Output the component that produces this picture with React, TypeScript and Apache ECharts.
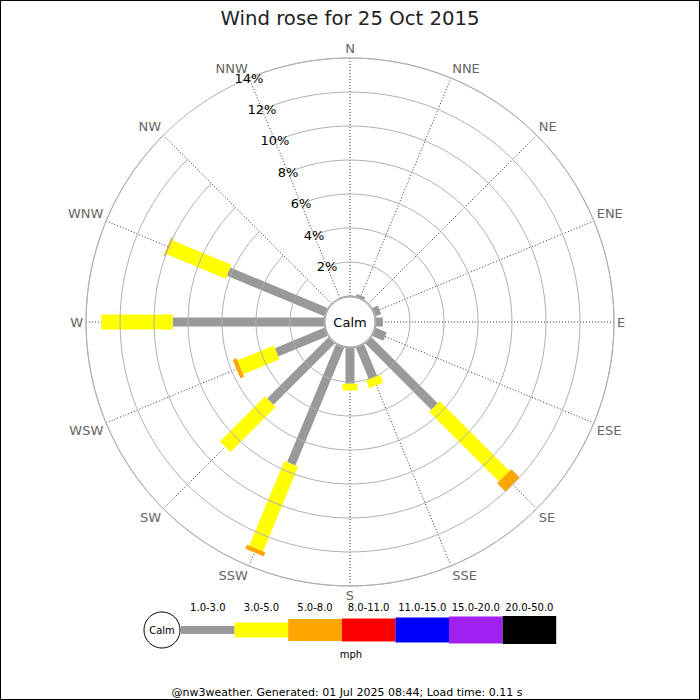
import React, { useEffect, useRef } from "react";
import * as echarts from "echarts";

const TITLE = "Wind rose for 25 Oct 2015";
const FOOTER = "@nw3weather. Generated: 01 Jul 2025 08:44; Load time: 0.11 s";
const DIRECTIONS = ["N", "NNE", "NE", "ENE", "E", "ESE", "SE", "SSE", "S", "SSW", "SW", "WSW", "W", "WNW", "NW", "NNW"];
const BAND_LABELS = ["1.0-3.0", "3.0-5.0", "5.0-8.0", "8.0-11.0", "11.0-15.0", "15.0-20.0", "20.0-50.0"];
const BAND_COLORS = ["#999999", "#ffff00", "#ffa500", "#ff0000", "#0000ff", "#a020f0", "#000000"];
const RADIUS_TICKS = [0, 2, 4, 6, 8, 10, 12, 14];

// percentage of time per direction, for each speed band (mph)
const PCT_1_3 = [0, 0.15, 0, 0.35, 0.4, 0.7, 5.5, 2.0, 2.1, 7.5, 5.1, 3.15, 8.9, 6.2, 0, 0];
const PCT_3_5 = [0, 0, 0, 0, 0, 0, 5.8, 0.5, 0.4, 5.4, 3.75, 2.3, 4.2, 3.8, 0, 0];
const PCT_5_8 = [0, 0, 0, 0, 0, 0, 0.7, 0, 0, 0.25, 0, 0.25, 0, 0.08, 0, 0];
const PCT_8_11 = [0, 0, 0, 0, 0, 0, 0, 0, 0, 0, 0, 0, 0, 0, 0, 0];
const PCT_11_15 = [0, 0, 0, 0, 0, 0, 0, 0, 0, 0, 0, 0, 0, 0, 0, 0];
const PCT_15_20 = [0, 0, 0, 0, 0, 0, 0, 0, 0, 0, 0, 0, 0, 0, 0, 0];
const PCT_20_50 = [0, 0, 0, 0, 0, 0, 0, 0, 0, 0, 0, 0, 0, 0, 0, 0];

const BANDS = [PCT_1_3, PCT_3_5, PCT_5_8, PCT_8_11, PCT_11_15, PCT_15_20, PCT_20_50];
const BAR_WIDTHS = [9, 15, 20, 22, 24, 26, 28];
const LEGEND_HEIGHTS = [8, 15, 22, 23, 25, 27, 28];
const FONT = "DejaVu Sans";

export default function App() {
  const ref = useRef<HTMLDivElement>(null);
  useEffect(() => {
    if (!ref.current) return;
    const chart = echarts.init(ref.current, undefined, { renderer: "svg" });

    // angle axis starts at NNW so that the radius labels run along that spoke
    const angleCats = [DIRECTIONS[15], ...DIRECTIONS.slice(0, 15)];
    const data: number[][] = [];
    DIRECTIONS.forEach((_, d) => {
      let cum = 0;
      const aIdx = (d + 1) % 16;
      BANDS.forEach((band, b) => {
        const v = band[d];
        if (v > 0) {
          data.push([cum + v, aIdx, cum, b]);
          cum += v;
        }
      });
    });

    const cx = 350, cy = 322;
    const legendX0 = 181, legendW = 53.6, legendCy = 630;
    const legendEls: any[] = [
      { type: "circle", shape: { cx: 162, cy: legendCy, r: 18 }, style: { fill: "#fff", stroke: "#000", lineWidth: 1 } },
      { type: "text", x: 162, y: legendCy, style: { text: "Calm", fontSize: 10, fontFamily: FONT, fill: "#000", align: "center", verticalAlign: "middle" } },
    ];
    BAND_LABELS.forEach((lab, i) => {
      const h = LEGEND_HEIGHTS[i];
      legendEls.push({ type: "rect", shape: { x: legendX0 + i * legendW, y: legendCy - h / 2, width: legendW, height: h }, style: { fill: BAND_COLORS[i] } });
      legendEls.push({ type: "text", x: legendX0 + i * legendW + legendW / 2, y: 607, style: { text: lab, fontSize: 10, fontFamily: FONT, fill: "#000", align: "center", verticalAlign: "middle" } });
    });
    legendEls.push({ type: "text", x: 351, y: 654, style: { text: "mph", fontSize: 10, fontFamily: FONT, fill: "#000", align: "center", verticalAlign: "middle" } });

    chart.setOption({
      animation: false,
      backgroundColor: "#fff",
      title: {
        text: TITLE,
        left: "center",
        top: 3,
        textStyle: { fontFamily: FONT, fontSize: 19.7, fontWeight: "normal", color: "#222" },
      },
      polar: { center: [cx, cy], radius: [26, 264] },
      angleAxis: {
        type: "category",
        data: angleCats,
        startAngle: 112.5,
        clockwise: true,
        boundaryGap: false,
        axisLine: { show: true, lineStyle: { color: "#b0b0b0", width: 1 } },
        axisTick: { show: false },
        axisLabel: { color: "#666", fontSize: 13, fontFamily: FONT, margin: 3 },
        splitLine: { show: true, lineStyle: { color: "#333", width: 1, type: [1, 2] } },
      },
      radiusAxis: {
        type: "value",
        min: RADIUS_TICKS[0],
        max: RADIUS_TICKS[RADIUS_TICKS.length - 1],
        interval: 2,
        axisLine: { show: false },
        axisTick: { show: false },
        axisLabel: {
          show: true,
          margin: 0,
          align: "center",
          verticalAlign: "middle",
          color: "#000",
          fontSize: 13,
          fontFamily: FONT,
          formatter: (v: number) => (v === 0 ? "" : v + "%"),
        },
        splitLine: { show: true, lineStyle: { color: "#b0b0b0", width: 1 } },
        z: 10,
      },
      series: [
        {
          type: "custom",
          coordinateSystem: "polar",
          data,
          encode: { radius: 0, angle: 1 },
          renderItem: (params: any, api: any) => {
            const r1 = api.value(0);
            const a = api.value(1);
            const r0 = api.value(2);
            const b = api.value(3);
            const p0 = api.coord([r0, a]);
            const p1 = api.coord([r1, a]);
            const pc = api.coord([0, a]);
            const po = api.coord([14, a]);
            const dx = po[0] - pc[0], dy = po[1] - pc[1];
            const len = Math.sqrt(dx * dx + dy * dy) || 1;
            const nx = -dy / len, ny = dx / len;
            const hw = BAR_WIDTHS[b] / 2;
            return {
              type: "polygon",
              shape: {
                points: [
                  [p0[0] + nx * hw, p0[1] + ny * hw],
                  [p1[0] + nx * hw, p1[1] + ny * hw],
                  [p1[0] - nx * hw, p1[1] - ny * hw],
                  [p0[0] - nx * hw, p0[1] - ny * hw],
                ],
              },
              style: { fill: BAND_COLORS[b] },
            };
          },
          z: 5,
        },
      ],
      graphic: [
        { type: "circle", z: 100, shape: { cx, cy, r: 25 }, style: { fill: "#fff", stroke: "#999", lineWidth: 1 } },
        { type: "text", z: 101, x: cx, y: cy, style: { text: "Calm", fontSize: 13, fontFamily: FONT, fill: "#000", align: "center", verticalAlign: "middle" } },
        ...legendEls.map((e) => ({ ...e, z: 100 })),
        { type: "text", z: 100, x: 347, y: 692, style: { text: FOOTER, fontSize: 11, fontFamily: FONT, fill: "#000", align: "center", verticalAlign: "middle" } },
      ],
    });
    return () => chart.dispose();
  }, []);
  return (
    <div style={{ position: "fixed", left: 0, top: 0, width: 700, height: 700 }}>
      <div ref={ref} style={{ position: "absolute", left: 0, top: 0, width: 700, height: 700 }} />
      <div style={{ position: "absolute", left: 0, top: 0, width: 700, height: 700, boxSizing: "border-box", border: "1px solid #000", pointerEvents: "none" }} />
    </div>
  );
}
